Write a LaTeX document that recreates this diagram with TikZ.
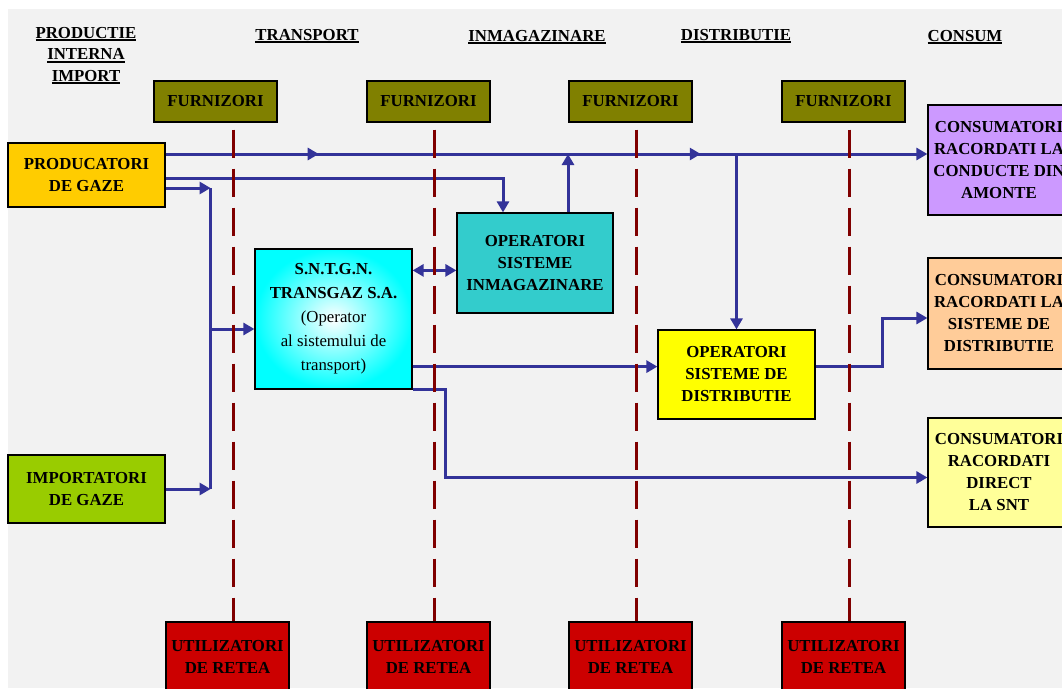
\documentclass[tikz,border=0pt]{standalone}
\usepackage{fontspec}
\setmainfont{Liberation Serif}
\usepackage{tikz}
\usetikzlibrary{calc,arrows.meta,decorations.markings}

\definecolor{flowblue}{HTML}{333399}
\definecolor{sepred}{HTML}{800000}
\definecolor{furncol}{HTML}{808000}
\definecolor{utilcol}{HTML}{CC0000}
\definecolor{prodcol}{HTML}{FFCC00}
\definecolor{impcol}{HTML}{99CC00}
\definecolor{storcol}{HTML}{33CCCC}
\definecolor{distrcol}{HTML}{FFFF00}
\definecolor{amontecol}{HTML}{CC99FF}
\definecolor{retcol}{HTML}{FFCC99}
\definecolor{sntcol}{HTML}{FFFF99}
\definecolor{bgcol}{HTML}{F2F2F2}

\newcommand{\headul}[1]{\setbox0=\hbox{#1}\rlap{\rule[-3pt]{\wd0}{1.6pt}}\box0}

\begin{document}
\begin{tikzpicture}[x=1pt,y=-1pt,
  >={Triangle[length=11pt,width=12pt]},
  every node/.style={font=\fontsize{16.8}{22}\selectfont\bfseries, align=center, inner sep=0pt},
  box/.style={draw=black, line width=1.2pt, minimum width=157pt},
  furn/.style={box, fill=furncol, minimum width=123pt, minimum height=41pt},
  util/.style={box, fill=utilcol, minimum width=123pt, minimum height=70pt},
  cons/.style={box, minimum width=142pt, minimum height=110pt},
  heading/.style={font=\fontsize{16.8}{21.5}\selectfont\bfseries},
  flow/.style={color=flowblue, line width=3pt, ->},
  pipe/.style={color=flowblue, line width=3pt},
  sepline/.style={draw=sepred, line width=3pt, dash pattern=on 28pt off 11pt},
  midarrows/.style={postaction={decorate}, decoration={markings,
    mark=at position 0.201 with {\arrow{>}},
    mark=at position 0.7025 with {\arrow{>}}}}
]
\useasboundingbox (0,0) rectangle (1062,688);
\fill[white] (0,0) rectangle (1062,688);
\fill[bgcol] (8,9) rectangle (1062,688);
\clip (0,0) rectangle (1062,688);

% column headings
\node[heading] (hprod) at (86,55.5) {\headul{PRODUCTIE}\\ \headul{INTERNA}\\ \headul{IMPORT}};
\node[heading] (htrans) at (307,36) {\headul{TRANSPORT}};
\node[heading] (hstor) at (537,37) {\headul{INMAGAZINARE}};
\node[heading] (hdistr) at (736,36) {\headul{DISTRIBUTIE}};
\node[heading] (hcons) at (965,37) {\headul{CONSUM}};

\foreach \i/\x in {1/215.5,2/428.5,3/630.5,4/843.5}
  \node[furn] (furn\i) at (\x,101.5) {FURNIZORI};
\foreach \i/\x in {1/227.5,2/428.5,3/630.5,4/843.5}
  \node[util] (util\i) at (\x,657) {UTILIZATORI\\DE RETEA};

\node[box, fill=prodcol, minimum height=64pt] (prod) at (86.5,175) {PRODUCATORI\\DE GAZE};
\node[box, fill=impcol, minimum height=68pt] (imp) at (86.5,489) {IMPORTATORI\\DE GAZE};
\node[box, minimum height=140pt, inner color=white, outer color=cyan,
  font=\fontsize{16.8}{24}\selectfont\bfseries] (sntgn) at (333.5,319)
  {S.N.T.G.N.\\TRANSGAZ S.A.\\\mdseries (Operator\\\mdseries al sistemului de\\\mdseries transport)};
\node[box, fill=storcol, minimum width=156pt, minimum height=100pt] (stor) at (535,263) {OPERATORI\\SISTEME\\INMAGAZINARE};
\node[box, fill=distrcol, minimum height=89pt] (distr) at (736.5,374.5) {OPERATORI\\SISTEME DE\\DISTRIBUTIE};

\node[cons, fill=amontecol] (cons1) at (999,160) {CONSUMATORI\\RACORDATI LA\\CONDUCTE DIN\\AMONTE};
\node[cons, fill=retcol, minimum height=111pt] (cons2) at (999,313.5) {CONSUMATORI\\RACORDATI LA\\SISTEME DE\\DISTRIBUTIE};
\node[cons, fill=sntcol, minimum height=109pt] (cons3) at (999,472.5) {CONSUMATORI\\RACORDATI\\DIRECT\\LA SNT};

% gas flows
\draw[flow, midarrows] ($(prod.east)+(0,-21)$) coordinate (p1) -- (cons1.west |- p1);
\draw[flow] ($(prod.east)+(0,3)$) -| ($(stor.north)+(-32,0)$);
\draw[flow] ($(prod.east)+(0,13)$) -- ++(45,0) coordinate (b1);
\draw[flow] (imp.east) -- ++(45,0) coordinate (b2);
\draw[pipe] (b1) -- (b2);
\coordinate (s2) at ($(sntgn.west)+(0,10)$);
\draw[flow] (b1 |- s2) -- (s2);
\draw[flow] ($(stor.north)+(33,0)$) coordinate (s1) -- (s1 |- p1);
\draw[flow, <->] ($(sntgn.north east)+(0,22)$) coordinate (t1) -- (stor.west |- t1);
\draw[flow] ($(sntgn.south east)+(0,-23)$) coordinate (t2) -- (distr.west |- t2);
\draw[flow] (distr.north |- p1) -- (distr.north);
\draw[flow] (distr.east |- t2) -- ++(67,0) |- ($(cons2.west)+(0,4.5)$);
\draw[flow] (sntgn.south east) -- ++(33,0) |- ($(cons3.west)+(0,5)$);

% network user lines
\foreach \i/\x in {1/233,2/434,3/636,4/849}
  \draw[sepline] ($(furn\i.south -| \x,0)+(0,7)$) -- (util\i.north -| \x,0);
\end{tikzpicture}
\end{document}
